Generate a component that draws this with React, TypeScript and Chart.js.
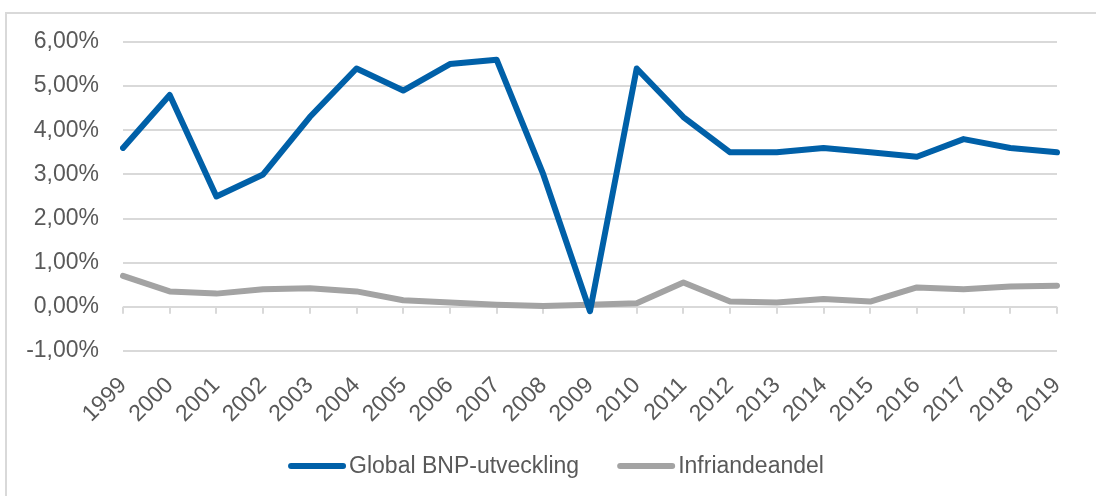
import React, { useEffect, useRef } from "react";
import { Chart, registerables } from "chart.js";

Chart.register(...registerables);

const years = [
  "1999", "2000", "2001", "2002", "2003", "2004", "2005", "2006", "2007", "2008",
  "2009", "2010", "2011", "2012", "2013", "2014", "2015", "2016", "2017", "2018", "2019",
];

// Global BNP-utveckling, % per år
const gdpGrowth = [
  3.6, 4.8, 2.5, 3.0, 4.3, 5.4, 4.9, 5.5, 5.6, 3.0,
  -0.1, 5.4, 4.3, 3.5, 3.5, 3.6, 3.5, 3.4, 3.8, 3.6, 3.5,
];

// Infriandeandel, %
const redemptionShare = [
  0.7, 0.35, 0.3, 0.4, 0.42, 0.35, 0.15, 0.1, 0.05, 0.02,
  0.05, 0.08, 0.55, 0.12, 0.1, 0.18, 0.12, 0.44, 0.4, 0.46, 0.48,
];

const seriesNames = ["Global BNP-utveckling", "Infriandeandel"];
const seriesColors = ["#0060a8", "#a3a3a3"];

const yMin = -1;
const yMax = 6;
const yStep = 1;

const FONT = "'Liberation Sans', Arial, Helvetica, sans-serif";
const FONT_SIZE = 23;
const TEXT_COLOR = "#595959";
const GRID_COLOR = "#d9d9d9";

// Small tick marks on the zero line, one per category
const zeroTicks = {
  id: "zeroTicks",
  beforeDatasetsDraw(chart: any) {
    const { ctx, scales } = chart;
    const x = scales.x;
    const y0 = scales.y.getPixelForValue(0);
    ctx.save();
    ctx.strokeStyle = GRID_COLOR;
    ctx.lineWidth = 2;
    for (let i = 0; i < years.length; i++) {
      const px = Math.round(x.getPixelForTick(i));
      ctx.beginPath();
      ctx.moveTo(px, y0);
      ctx.lineTo(px, y0 + 7);
      ctx.stroke();
    }
    ctx.restore();
  },
};

// Legend row with line samples below the axis labels
const lineLegend = {
  id: "lineLegend",
  afterDraw(chart: any) {
    const { ctx } = chart;
    const sampleW = 58;
    const gap = 3;
    const itemGap = 38;
    const cy = 466;
    ctx.save();
    ctx.font = `${FONT_SIZE}px ${FONT}`;
    const widths = chart.data.datasets.map((d: any) => ctx.measureText(d.label).width);
    let total = 0;
    widths.forEach((w: number, i: number) => {
      total += sampleW + gap + w + (i > 0 ? itemGap : 0);
    });
    let x = 556 - total / 2;
    chart.data.datasets.forEach((d: any, i: number) => {
      ctx.strokeStyle = d.borderColor;
      ctx.lineWidth = 6;
      ctx.lineCap = "round";
      ctx.beginPath();
      ctx.moveTo(x + 3, cy);
      ctx.lineTo(x + sampleW - 3, cy);
      ctx.stroke();
      ctx.fillStyle = TEXT_COLOR;
      ctx.textBaseline = "middle";
      ctx.textAlign = "left";
      ctx.fillText(d.label, x + sampleW + gap, cy + 1);
      x += sampleW + gap + widths[i] + itemGap;
    });
    ctx.restore();
  },
};

export default function App() {
  const canvasRef = useRef<HTMLCanvasElement | null>(null);

  useEffect(() => {
    if (!canvasRef.current) return;
    const chart = new Chart(canvasRef.current, {
      type: "line",
      data: {
        labels: years,
        datasets: [
          {
            label: seriesNames[0],
            data: gdpGrowth,
            borderColor: seriesColors[0],
            backgroundColor: seriesColors[0],
            borderWidth: 6,
            pointRadius: 0,
            tension: 0,
            borderJoinStyle: "round",
            borderCapStyle: "round",
          },
          {
            label: seriesNames[1],
            data: redemptionShare,
            borderColor: seriesColors[1],
            backgroundColor: seriesColors[1],
            borderWidth: 6,
            pointRadius: 0,
            tension: 0,
            borderJoinStyle: "round",
            borderCapStyle: "round",
          },
        ],
      },
      options: {
        animation: false,
        responsive: false,
        maintainAspectRatio: false,
        layout: { padding: { top: 42, right: 39, left: 0, bottom: 0 } },
        plugins: {
          legend: { display: false },
          tooltip: { enabled: false },
        },
        scales: {
          x: {
            offset: false,
            grid: { display: false },
            border: { display: false },
            ticks: {
              autoSkip: false,
              maxRotation: 45,
              minRotation: 45,
              padding: 13,
              color: TEXT_COLOR,
              font: { family: FONT, size: FONT_SIZE },
            },
            afterFit(scale: any) {
              scale.height = 145;
            },
          },
          y: {
            min: yMin,
            max: yMax,
            border: { display: false },
            grid: { color: GRID_COLOR, lineWidth: 2, drawTicks: false },
            ticks: {
              stepSize: yStep,
              padding: 24,
              color: TEXT_COLOR,
              font: { family: FONT, size: FONT_SIZE },
              callback: (v: any) => Number(v).toFixed(2).replace(".", ",") + "%",
            },
            afterFit(scale: any) {
              scale.width = 123;
            },
          },
        },
      },
      plugins: [zeroTicks, lineLegend],
    });
    return () => chart.destroy();
  }, []);

  return (
    <div
      style={{
        position: "fixed",
        left: 0,
        top: 0,
        width: 1096,
        height: 496,
        overflow: "hidden",
        background: "#ffffff",
      }}
    >
      <canvas ref={canvasRef} width={1096} height={496} style={{ display: "block" }} />
      <div
        style={{
          position: "absolute",
          left: 5,
          top: 12,
          width: 1200,
          height: 600,
          border: `2px solid ${GRID_COLOR}`,
          pointerEvents: "none",
        }}
      />
    </div>
  );
}
